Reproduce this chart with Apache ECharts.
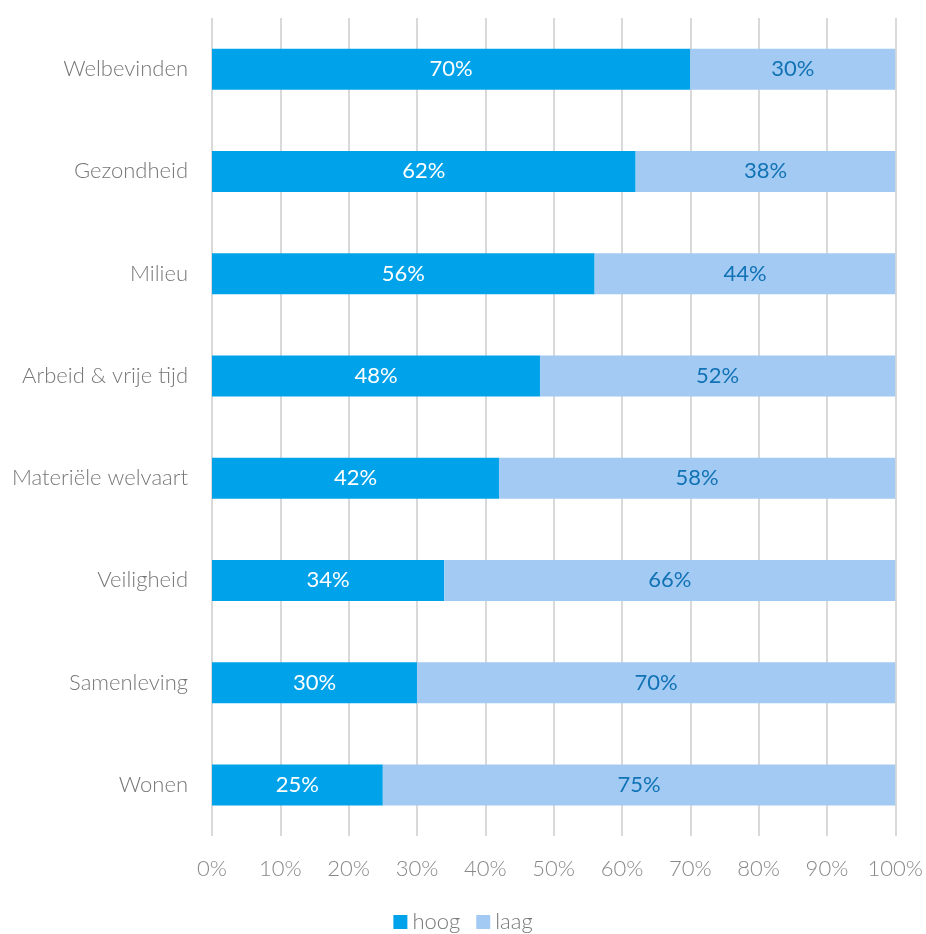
<!DOCTYPE html>
<html><head><meta charset="utf-8">
<script src="https://cdn.jsdelivr.net/npm/echarts@6/dist/echarts.min.js"></script>
<style>html,body{margin:0;padding:0;background:#fff}#c{width:926px;height:934px}</style>
</head><body><div id="c"></div>
<script>
const categories = ['Welbevinden','Gezondheid','Milieu','Arbeid & vrije tijd','Materiële welvaart','Veiligheid','Samenleving','Wonen'];
const hoog = [70,62,56,48,42,34,30,25];
const laag = [30,38,44,52,58,66,70,75];
const xTicks = [0,10,20,30,40,50,60,70,80,90,100];
const FONT = 'Lato';
const chart = echarts.init(document.getElementById('c'));
chart.setOption({
  animation:false,
  textStyle:{fontFamily:FONT},
  grid:{left:212,right:28,top:18,bottom:98,containLabel:false},
  legend:{top:906,left:'center',itemWidth:14,itemHeight:14,itemGap:16,icon:'rect',
    textStyle:{fontFamily:FONT,fontSize:22,color:'#777',fontWeight:300},
    data:['hoog','laag']},
  xAxis:{type:'value',min:0,max:100,interval:10,
    axisLine:{show:false},axisTick:{show:false},
    splitLine:{lineStyle:{color:'#d9d9d9',width:2}},
    axisLabel:{formatter:v=>v+'%',fontFamily:FONT,fontSize:22,color:'#888',fontWeight:300,margin:22}},
  yAxis:{type:'category',inverse:true,data:categories,
    axisLine:{show:false},axisTick:{show:false},
    axisLabel:{fontFamily:FONT,fontSize:22,color:'#777',fontWeight:300,margin:24}},
  series:[
    {name:'hoog',type:'bar',stack:'s',data:hoog,barWidth:41,itemStyle:{color:'#00A3EA'},
     label:{show:true,position:'inside',formatter:p=>p.value+'%',color:'#fff',fontSize:22,fontFamily:FONT}},
    {name:'laag',type:'bar',stack:'s',data:laag,barWidth:41,itemStyle:{color:'#A3CAF2'},
     label:{show:true,position:'inside',formatter:p=>p.value+'%',color:'#1173B5',fontSize:22,fontFamily:FONT}}
  ]
});
</script></body></html>
